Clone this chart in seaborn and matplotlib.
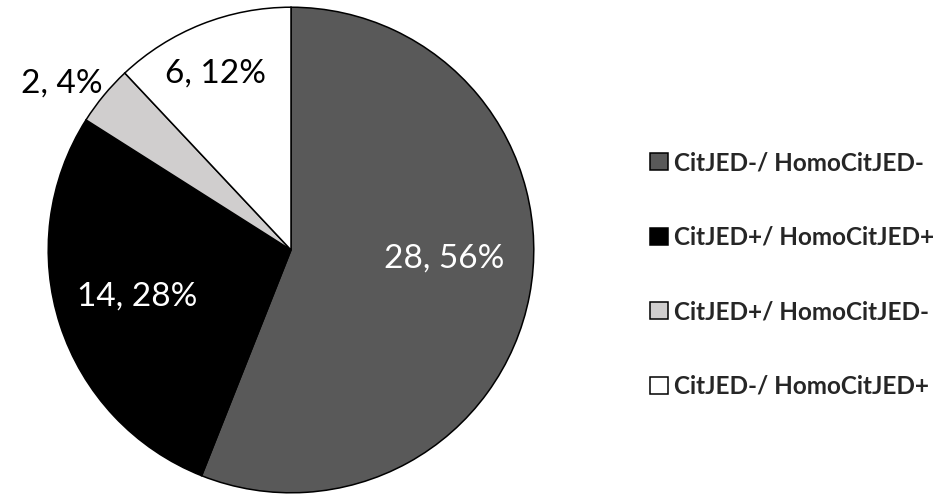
import matplotlib
matplotlib.use("Agg")
import matplotlib.pyplot as plt
import seaborn as sns

# data
groups = ["CitJED-/ HomoCitJED-", "CitJED+/ HomoCitJED+",
          "CitJED+/ HomoCitJED-", "CitJED-/ HomoCitJED+"]
counts = [28, 14, 2, 6]
percents = [56, 28, 4, 12]
slice_colors = ["#595959", "#000000", "#d0cece", "#ffffff"]
label_colors = ["white", "white", "black", "black"]
# label positions, pie radius units (Excel "best fit" placement)
label_pos = [(0.631, -0.037), (-0.635, -0.193), (-0.943, 0.684), (-0.311, 0.725)]

sns.set_theme(style="white")
plt.rcParams["font.family"] = ["Lato", "DejaVu Sans"]

fig = plt.figure(figsize=(9.5, 4.95), dpi=100)
ax = fig.add_axes([47 / 950, 1 / 495, 488 / 950, 488 / 495])

palette = sns.color_palette(slice_colors)
wedges, _ = ax.pie(counts, colors=palette, startangle=90, counterclock=False,
                   radius=1, wedgeprops=dict(edgecolor="black", linewidth=1.1))
ax.set_xlim(-1.005, 1.005)
ax.set_ylim(-1.005, 1.005)
ax.set_aspect("equal")
ax.axis("off")

for (x, y), n, p, c in zip(label_pos, counts, percents, label_colors):
    ax.text(x, y, f"{n}, {p}%", color=c, fontsize=24, ha="center", va="center")

legend_size = 17.5
hsize = 17.5 / (legend_size * 100 / 72)
fig.legend(wedges, groups, loc="center left", bbox_to_anchor=(650 / 950, 0.4455),
           frameon=False, borderpad=0, borderaxespad=0,
           prop=dict(family=["Lato", "DejaVu Sans"], weight="bold", size=legend_size),
           handlelength=hsize, handleheight=hsize, handletextpad=0.25,
           labelspacing=2.12)

fig.savefig("out.png", dpi=100, facecolor="white")
